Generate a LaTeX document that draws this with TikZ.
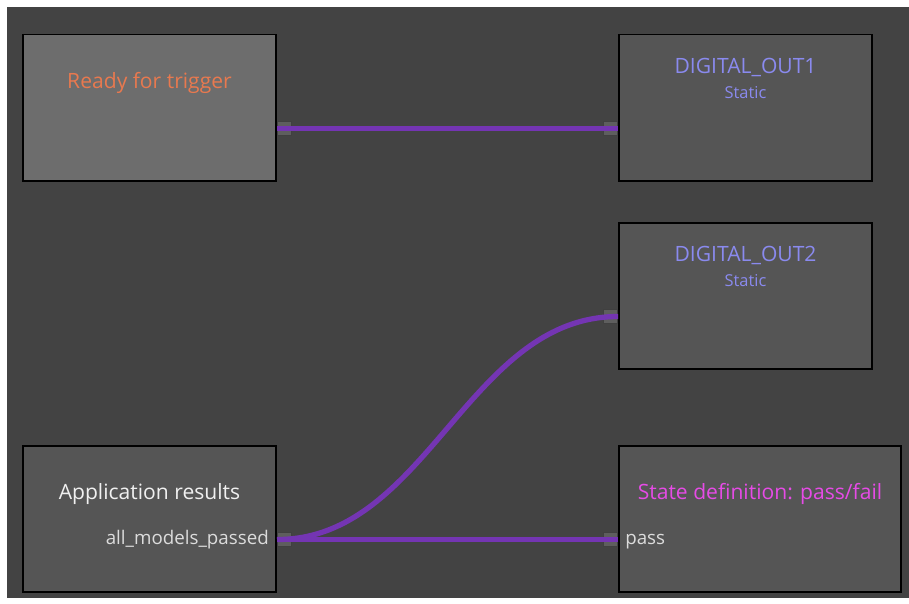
\documentclass[tikz,border=0pt]{standalone}
\usepackage{fontspec}
\setmainfont{Open Sans}
\usepackage{xcolor}
\usepackage{tikz}
\usetikzlibrary{positioning,calc}

\definecolor{canvas}{HTML}{434343}
\definecolor{boxgray}{HTML}{555555}
\definecolor{readygray}{HTML}{6D6D6D}
\definecolor{portgray}{HTML}{5E5E5E}
\definecolor{wirepurple}{HTML}{7435B3}
\definecolor{txtorange}{HTML}{E8794F}
\definecolor{txtlavender}{HTML}{8A8AEF}
\definecolor{txtmagenta}{HTML}{E64BE6}
\definecolor{txtwhite}{HTML}{F0F0F0}
\definecolor{txtlight}{HTML}{DCDCDC}

\begin{document}
\begin{tikzpicture}[
    x=0.03cm, y=-0.03cm,
    node distance=1.2cm and 10.23cm,
    block/.style={rectangle, draw=black, line width=1.7pt, fill=boxgray, minimum width=7.59cm, minimum height=4.38cm, inner sep=0pt},
    port/.style={rectangle, draw=black!75, line width=0.7pt, fill=portgray, minimum size=0.42cm, inner sep=0pt},
    title/.style={inner sep=0pt, font=\fontsize{18pt}{21pt}\selectfont},
    subtitle/.style={inner sep=0pt, font=\fontsize{14pt}{16pt}\selectfont},
    portlabel/.style={inner sep=0pt, text=txtlight, font=\fontsize{16pt}{19pt}\selectfont},
    wire/.style={draw=wirepurple, line width=4.5pt}
]
    % canvas
    \fill[white] (0,0) rectangle (909,603);
    \fill[canvas] (7,7) rectangle (909,598);

    % blocks
    \node[block, fill=readygray] (ready) at (149.5,107.5) {};
    \node[block, right=of ready] (dout1) {};
    \node[block, below=of dout1] (dout2) {};
    \node[block, below=7.89cm of ready] (results) {};
    \node[block, right=of results, minimum width=8.46cm] (state) {};

    % titles
    \node[title, text=txtorange] at ([yshift=-1.47cm]ready.north) {Ready for trigger};
    \node[title, text=txtlavender] at ([yshift=-1.02cm]dout1.north) {DIGITAL\_OUT1};
    \node[subtitle, text=txtlavender] at ([yshift=-1.77cm]dout1.north) {Static};
    \node[title, text=txtlavender] at ([yshift=-1.02cm]dout2.north) {DIGITAL\_OUT2};
    \node[subtitle, text=txtlavender] at ([yshift=-1.77cm]dout2.north) {Static};
    \node[title, text=txtwhite] at ([yshift=-1.47cm]results.north) {Application results};
    \node[title, text=txtmagenta] at ([yshift=-1.47cm]state.north) {State definition: pass/fail};

    % ports
    \node[port, anchor=west] (readyout) at ([yshift=-0.63cm]ready.east) {};
    \node[port, anchor=east] (dout1in) at ([yshift=-0.63cm]dout1.west) {};
    \node[port, anchor=east] (dout2in) at ([yshift=-0.63cm]dout2.west) {};
    \node[port, anchor=west] (resultsout) at ([yshift=-0.63cm]results.east) {};
    \node[port, anchor=east] (statein) at ([yshift=-0.63cm]state.west) {};
    \node[portlabel, left=0.24cm of resultsout] {all\_models\_passed};
    \node[portlabel, right=0.21cm of statein, yshift=-0.05cm] {pass};

    % wires
    \draw[wire] (readyout.west) -- (dout1in.east);
    \draw[wire] (resultsout.west) -- (statein.east);
    \draw[wire] (resultsout.west) .. controls ([xshift=4.5cm]resultsout.west) and ([xshift=-4.5cm]dout2in.east) .. (dout2in.east);
\end{tikzpicture}
\end{document}
